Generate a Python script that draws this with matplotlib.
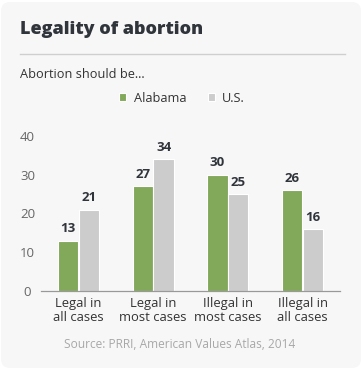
import matplotlib
matplotlib.use("Agg")
import matplotlib.pyplot as plt
import numpy as np
from matplotlib.patches import FancyBboxPatch
from matplotlib.lines import Line2D

categories = ["Legal in\nall cases", "Legal in\nmost cases", "Illegal in\nmost cases", "Illegal in\nall cases"]
alabama = [13, 27, 30, 26]
us = [21, 34, 25, 16]
series_names = ["Alabama", "U.S."]
yticks = [0, 10, 20, 30, 40]

GREEN = "#82a85a"
GREY = "#cccccc"
DARK = "#30343b"
BG = "#f7f7f7"

plt.rcParams["font.family"] = ["Open Sans", "DejaVu Sans"]

W, H = 363, 369
fig = plt.figure(figsize=(W / 100, H / 100), dpi=100)
fig.patch.set_facecolor("white")

# rounded panel behind everything
panel = FancyBboxPatch((1 / W, 1 / H), 1 - 3 / W, 1 - 3 / H,
                       boxstyle="round,pad=0,rounding_size=0.025",
                       transform=fig.transFigure, facecolor=BG, edgecolor="none", zorder=-10)
fig.patches.append(panel)

def fx(px):
    return px / W

def fy(py):
    return 1 - py / H

fig.text(fx(20), fy(30), "Legality of abortion", fontsize=13, fontweight="heavy",
         color=DARK, ha="left", va="center")
fig.add_artist(Line2D([fx(20), fx(345)], [fy(54), fy(54)], color="#cfcfcf", lw=1))
fig.text(fx(20), fy(74), "Abortion should be...", fontsize=9.2, color="#333333",
         ha="left", va="center")

ax = fig.add_axes([fx(41), fy(291), fx(340) - fx(41), fy(136) - fy(291)])
ax.set_facecolor("none")
ax.set_zorder(2)

x = np.arange(len(categories))
width = 0.27
off = 0.14
b1 = ax.bar(x - off, alabama, width, color=GREEN, edgecolor="white", linewidth=0.8, label=series_names[0])
b2 = ax.bar(x + off, us, width, color=GREY, edgecolor="white", linewidth=0.8, label=series_names[1])
for bars, vals in ((b1, alabama), (b2, us)):
    for rect, v in zip(bars, vals):
        ax.text(rect.get_x() + rect.get_width() / 2, v + 1.4, str(v), ha="center", va="bottom",
                fontsize=9.5, fontweight="bold", color=DARK)

ax.set_xlim(-0.5, 3.5)
ax.set_ylim(0, 40)
ax.set_yticks(yticks)
ax.set_xticks(x)
ax.set_xticklabels(categories, fontsize=9.4, color="#333333", linespacing=1.15)
for s in ("top", "right", "left"):
    ax.spines[s].set_visible(False)
ax.spines["bottom"].set_color("#999999")
ax.spines["bottom"].set_linewidth(0.9)
ax.tick_params(axis="y", length=0, labelsize=9.5, labelcolor="#666666", pad=0)
for lbl in ax.get_yticklabels():
    lbl.set_horizontalalignment("center")
    lbl.set_x(-0.045)
ax.tick_params(axis="x", length=0, pad=4)

leg = fig.legend(handles=[b1, b2], labels=series_names, loc="center", bbox_to_anchor=(fx(182), fy(98)),
                 ncol=2, frameon=False, fontsize=9.2, handlelength=0.55, handleheight=0.55,
                 handletextpad=0.55, columnspacing=1.7)
for t in leg.get_texts():
    t.set_color("#333333")

fig.text(fx(180), fy(344), "Source: PRRI, American Values Atlas, 2014", fontsize=8.6,
         color="#a8a8a8", ha="center", va="center")

fig.savefig("out.png", dpi=100, facecolor=fig.get_facecolor())
